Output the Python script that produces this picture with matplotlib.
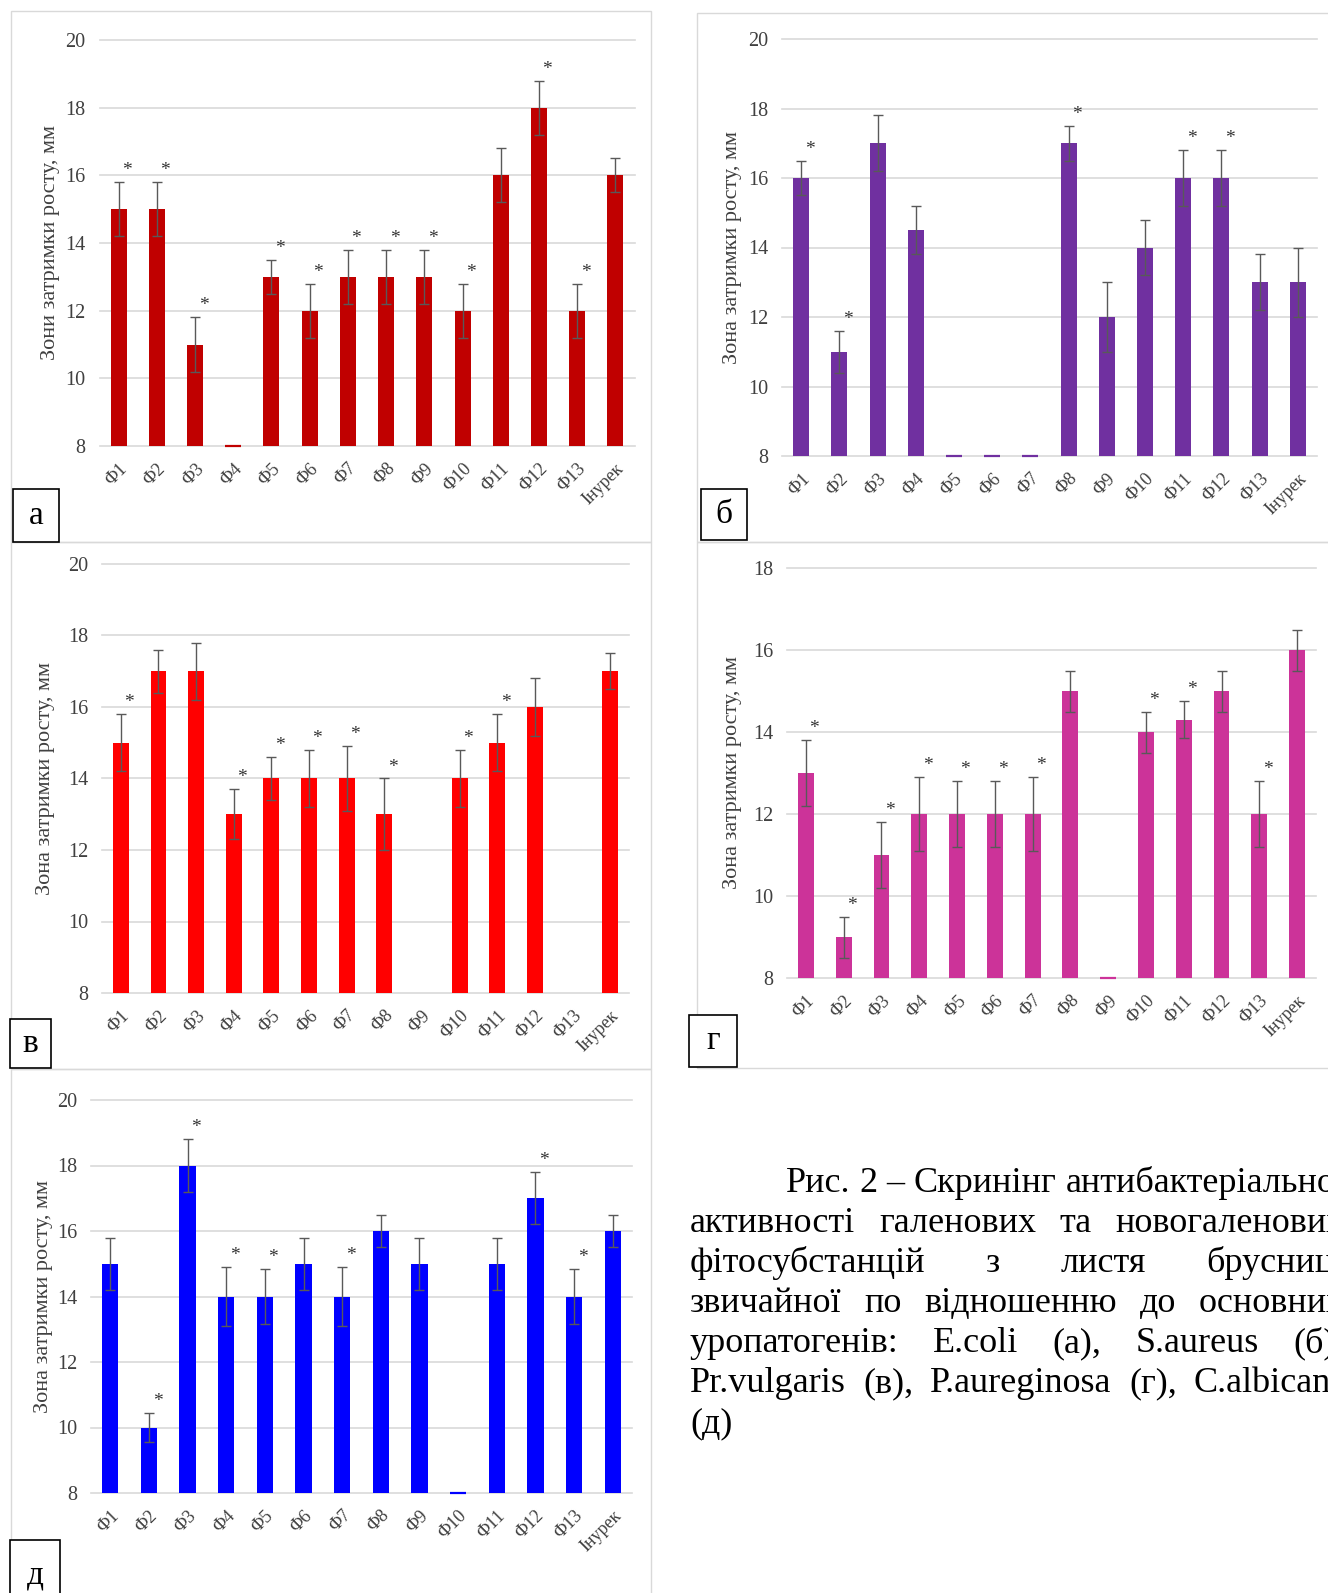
import matplotlib
matplotlib.use('Agg')
import matplotlib.pyplot as plt
import numpy as np
from matplotlib.patches import Rectangle

# ---------------- data ----------------
categories = ['Ф1', 'Ф2', 'Ф3', 'Ф4', 'Ф5', 'Ф6', 'Ф7', 'Ф8', 'Ф9', 'Ф10',
              'Ф11', 'Ф12', 'Ф13', 'Інурек']

# (а) E.coli
values_a = [15, 15, 11, 8, 13, 12, 13, 13, 13, 12, 16, 18, 12, 16]
errors_a = [0.8, 0.8, 0.8, 0, 0.5, 0.8, 0.8, 0.8, 0.8, 0.8, 0.8, 0.8, 0.8, 0.5]
stars_a = [1, 1, 1, 0, 1, 1, 1, 1, 1, 1, 0, 1, 1, 0]

# (б) S.aureus
values_b = [16, 11, 17, 14.5, 8, 8, 8, 17, 12, 14, 16, 16, 13, 13]
errors_b = [0.5, 0.6, 0.8, 0.7, 0, 0, 0, 0.5, 1.0, 0.8, 0.8, 0.8, 0.8, 1.0]
stars_b = [1, 1, 0, 0, 0, 0, 0, 1, 0, 0, 1, 1, 0, 0]

# (в) Pr.vulgaris
values_v = [15, 17, 17, 13, 14, 14, 14, 13, np.nan, 14, 15, 16, np.nan, 17]
errors_v = [0.8, 0.6, 0.8, 0.7, 0.6, 0.8, 0.9, 1.0, 0, 0.8, 0.8, 0.8, 0, 0.5]
stars_v = [1, 0, 0, 1, 1, 1, 1, 1, 0, 1, 1, 0, 0, 0]

# (г) P.aureginosa
values_g = [13, 9, 11, 12, 12, 12, 12, 15, 8, 14, 14.3, 15, 12, 16]
errors_g = [0.8, 0.5, 0.8, 0.9, 0.8, 0.8, 0.9, 0.5, 0, 0.5, 0.45, 0.5, 0.8, 0.5]
stars_g = [1, 1, 1, 1, 1, 1, 1, 0, 0, 1, 1, 0, 1, 0]

# (д) C.albicans
values_d = [15, 10, 18, 14, 14, 15, 14, 16, 15, 8, 15, 17, 14, 16]
errors_d = [0.8, 0.45, 0.8, 0.9, 0.85, 0.8, 0.9, 0.5, 0.8, 0, 0.8, 0.8, 0.85, 0.5]
stars_d = [0, 1, 1, 1, 1, 0, 1, 0, 0, 0, 0, 1, 1, 0]

ylabel_a = 'Зони затримки росту, мм'
ylabel_other = 'Зона затримки росту, мм'

caption_lines = [
    'Рис. 2 – Скринінг антибактеріальної',
    'активності галенових та новогаленових',
    'фітосубстанцій з листя брусниці',
    'звичайної по відношенню до основних',
    'уропатогенів: E.coli (а), S.aureus (б),',
    'Pr.vulgaris (в), P.aureginosa (г), C.albicans',
    '(д)',
]

# ---------------- layout ----------------
W, H = 1328, 1593
DPI = 100
SERIF = ['Liberation Serif', 'DejaVu Serif']
TXT = '#404040'
GRID = '#D9D9D9'

fig = plt.figure(figsize=(W / DPI, H / DPI), dpi=DPI)
fig.patch.set_facecolor('white')


def fx(x):
    return x / W


def fy(y):
    return 1 - y / H


def frame(x0, y0, x1, y1, ec=GRID, lw=1.0, fc='none', z=0):
    r = Rectangle((fx(x0), fy(y1)), fx(x1) - fx(x0), fy(y0) - fy(y1),
                  transform=fig.transFigure, facecolor=fc, edgecolor=ec,
                  linewidth=lw, zorder=z)
    fig.add_artist(r)
    return r


def panel(box, vals, errs, stars, color, ymax, ylabel, ylab_x, letter, letter_box):
    x0, x1, y0, y1 = box
    ax = fig.add_axes([fx(x0), fy(y1), fx(x1) - fx(x0), fy(y0) - fy(y1)])
    ax.set_facecolor('none')
    xs = np.arange(len(categories))
    v = np.array(vals, dtype=float)
    e = np.array(errs, dtype=float)
    ok = ~np.isnan(v)
    heights = v[ok] - 8
    lws = [1.6 if h == 0 else 0 for h in heights]
    bars = ax.bar(xs[ok], heights, bottom=8, width=0.42, color=color,
                  edgecolor=color, linewidth=lws, zorder=2)
    for b in bars:
        b.set_clip_on(False)
    has_err = ok & (e > 0)
    ax.errorbar(xs[has_err], v[has_err], yerr=e[has_err], fmt='none',
                ecolor='#595959', elinewidth=1.0, capsize=3.5, capthick=1.0,
                zorder=3)
    for i in xs:
        if stars[i] and ok[i]:
            ax.annotate('*', (i + 0.22, v[i] + e[i]), xytext=(0, 5),
                        textcoords='offset points', ha='center', va='baseline',
                        fontsize=14, family=SERIF, color='#333333')
    ax.set_xlim(-0.5, 13.5)
    ax.set_ylim(8, ymax)
    ax.set_yticks(np.arange(8, ymax + 1, 2))
    ax.set_yticklabels([str(t) for t in range(8, ymax + 1, 2)],
                       family=SERIF, fontsize=14.5, color=TXT)
    ax.set_xticks(xs)
    ax.set_xticklabels(categories, family=SERIF, fontsize=13, color=TXT,
                       rotation=45, ha='right', rotation_mode='anchor')
    ax.tick_params(axis='both', length=0)
    ax.tick_params(axis='y', pad=10)
    ax.tick_params(axis='x', pad=10)
    for s in ax.spines.values():
        s.set_visible(False)
    ax.yaxis.grid(True, color=GRID, linewidth=1.2)
    for gl in ax.get_ygridlines():
        gl.set_clip_on(False)
    ax.set_axisbelow(True)
    ax.set_ylabel(ylabel, family=SERIF, fontsize=16, color=TXT)
    ax.yaxis.set_label_coords(fx(ylab_x), fy((y0 + y1) / 2), transform=fig.transFigure)
    ax.yaxis.label.set_verticalalignment('center')
    # letter box
    lx0, ly0, lx1, ly1 = letter_box
    frame(lx0, ly0, lx1, ly1, ec='black', lw=1.2, fc='white', z=5)
    fig.text(fx((lx0 + lx1) / 2), fy((ly0 + ly1) / 2), letter, ha='center',
             va='center', fontsize=24, family=SERIF, color='black', zorder=6)
    return ax


# panel frames
frame(11, 11, 651, 542)
frame(697, 13, 1340, 542)
frame(11, 542, 651, 1069)
frame(697, 542, 1340, 1068)
frame(11, 1069, 651, 1600)

panel((99.5, 634.5, 40, 446), values_a, errors_a, stars_a, '#C00000', 20,
      ylabel_a, 51, 'а', (13, 489, 59, 542))
panel((782, 1317, 39, 456), values_b, errors_b, stars_b, '#7030A0', 20,
      ylabel_other, 732, 'б', (701, 489, 747, 540))
panel((102, 629, 564, 993), values_v, errors_v, stars_v, '#FF0000', 20,
      ylabel_other, 46, 'в', (10, 1019, 51, 1068))
panel((787, 1316, 568, 978), values_g, errors_g, stars_g, '#CC3399', 18,
      ylabel_other, 733, 'г', (689, 1015, 737, 1067))
panel((91, 632, 1100, 1493), values_d, errors_d, stars_d, '#0000FF', 20,
      ylabel_other, 44, 'д', (10, 1540, 60, 1610))

# ---------------- caption (justified) ----------------
fig.canvas.draw()
renderer = fig.canvas.get_renderer()
CAP_FS = 26
left, right = 690, 1345
base0, step = 1192, 40
for k, line in enumerate(caption_lines):
    words = line.split(' ')
    x_start = 786 if k == 0 else left
    yb = base0 + k * step
    texts = [fig.text(0, 0, w, fontsize=CAP_FS, family=SERIF, color='black',
                      ha='left', va='baseline') for w in words]
    widths = [t.get_window_extent(renderer).width for t in texts]
    natural = 0.25 * CAP_FS * DPI / 72
    if len(words) > 1 and k < len(caption_lines) - 1:
        gap = max(natural, (right - x_start - sum(widths)) / (len(words) - 1))
    else:
        gap = natural
    x = x_start
    for t, w in zip(texts, widths):
        t.set_position((fx(x), fy(yb)))
        x += w + gap

fig.savefig('out.png', dpi=DPI, facecolor='white')
